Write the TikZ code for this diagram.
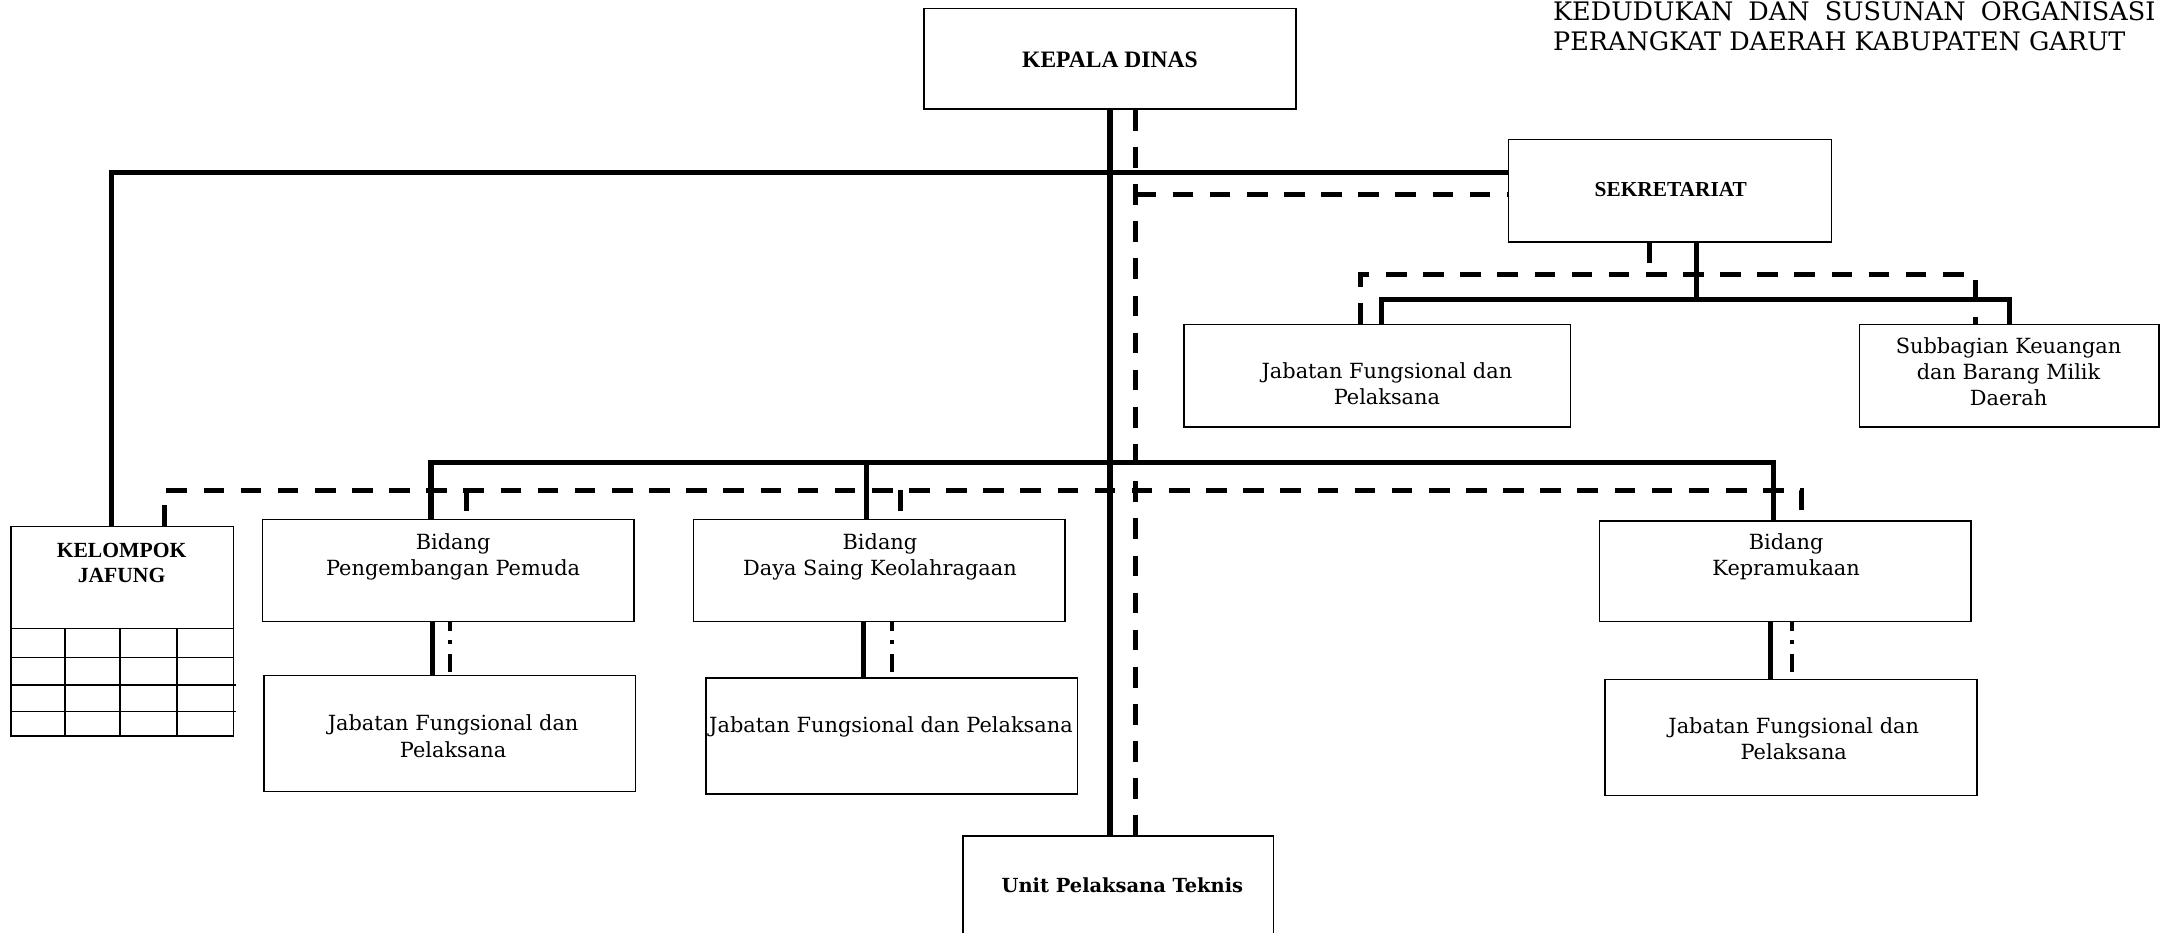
\documentclass[tikz,border=0pt]{standalone}
\usepackage{fontspec}
\setmainfont{DejaVu Serif}
\newfontfamily\timesfont{Liberation Serif}
\usetikzlibrary{calc}
\begin{document}
\begin{tikzpicture}[x=0.02cm,y=-0.02cm,
  box/.style={draw, line width=0.65pt, inner sep=0pt},
  txt/.style={inner sep=0pt, align=center, font=\fontsize{8.6}{10.8}\selectfont},
  hdr/.style={inner sep=0pt, align=center, font=\timesfont\bfseries\fontsize{9.7}{11}\selectfont},
  ttl/.style={anchor=base west, inner sep=0pt, font=\fontsize{10.5}{12}\selectfont},
  solidln/.style={line width=2.1pt},
  dashln/.style={line width=2.0pt, dash pattern=on 8.5pt off 6.8pt},
  dotln/.style={line width=1.6pt, dash pattern=on 7.4pt off 4pt on 1.7pt off 4pt, dash phase=4pt},
  gridln/.style={line width=0.65pt}]
\useasboundingbox (0,0) rectangle (1568,675);
\clip (0,0) rectangle (1568,675);

% title
\node[ttl] (ttl1) at (1124,15) {\makebox[8.72cm][s]{KEDUDUKAN DAN SUSUNAN ORGANISASI}};
\node[ttl] (ttl2) at (1124,36.5) {PERANGKAT DAERAH KABUPATEN GARUT};

% boxes
\node[box, minimum width=5.38cm, minimum height=1.46cm] (kd)  at (803.5,42.5) {};
\node[box, minimum width=4.68cm, minimum height=1.48cm] (sek) at (1209,138) {};
\node[box, minimum width=5.60cm, minimum height=1.48cm] (jf0) at (997,272) {};
\node[box, minimum width=4.34cm, minimum height=1.48cm] (sub) at (1454.5,272) {};
\node[box, minimum width=5.38cm, minimum height=1.48cm] (bp)  at (324.5,413) {};
\node[box, minimum width=5.38cm, minimum height=1.48cm] (bd)  at (636.5,413) {};
\node[box, minimum width=5.38cm, minimum height=1.46cm] (bk)  at (1292.5,413.5) {};
\node[box, minimum width=5.38cm, minimum height=1.68cm] (jp)  at (325.5,531) {};
\node[box, minimum width=5.38cm, minimum height=1.68cm] (jd)  at (645.5,533) {};
\node[box, minimum width=5.38cm, minimum height=1.68cm] (jk)  at (1296.5,534) {};
\node[box, minimum width=3.22cm, minimum height=3.04cm] (kj)  at (88.5,457) {};
\node[box, minimum width=4.50cm, minimum height=1.50cm] (upt) at (809.5,642.5) {};

% labels
\node[hdr] (kdt) at (803.5,43) {KEPALA DINAS};
\node[hdr, font=\timesfont\bfseries\fontsize{8.8}{10.2}\selectfont] (sekt) at (1209.5,137) {SEKRETARIAT};
\node[hdr, font=\timesfont\bfseries\fontsize{8.9}{10.2}\selectfont] (kjt) at (88,407.5) {KELOMPOK\\JAFUNG};
\node[txt] (jf0t) at (1004,278) {Jabatan Fungsional dan\\Pelaksana};
\node[txt] (subt) at (1454,269) {Subbagian Keuangan\\dan Barang Milik\\Daerah};
\node[txt] (bpt) at (328,403) {Bidang\\Pengembangan Pemuda};
\node[txt] (bdt) at (637,403) {Bidang\\Daya Saing Keolahragaan};
\node[txt] (bkt) at (1293,403) {Bidang\\Kepramukaan};
\node[txt] (jpt) at (328,533) {Jabatan Fungsional dan\\Pelaksana};
\node[txt] (jdt) at (645,526.5) {Jabatan Fungsional dan Pelaksana};
\node[txt] (jkt) at (1298.5,535) {Jabatan Fungsional dan\\Pelaksana};
\node[txt, font=\bfseries\fontsize{8}{10}\selectfont] (uptt) at (812.5,641) {Unit Pelaksana Teknis};

% table rows of the functional group box
\foreach \yy in {455,476} \draw[gridln] (8,\yy) -- (169,\yy);
\foreach \yy in {496,515} \draw[gridln] (8,\yy) -- (171,\yy);
\foreach \xx in {47,87,128} \draw[gridln] (\xx,455) -- (\xx,533);

% bus points
\coordinate (dv) at ($(kd.south)+(18.5,0)$);
\coordinate (tl) at (81,125);
\coordinate (sd) at ($(sek.west)+(0,3)$);
\coordinate (ss) at (1228,217);
\coordinate (sbl) at (1000,217);
\coordinate (sbr) at (1455,217);
\coordinate (ds) at (1194,199);
\coordinate (dbl) at (985,199);
\coordinate (dbr) at (1430,199);
\coordinate (bl) at (312,335);
\coordinate (bm) at (627,335);
\coordinate (br) at (1284,335);
\coordinate (el) at (119,355);
\coordinate (ep) at (338,355);
\coordinate (ed) at (652,355);
\coordinate (er) at (1304,355);
\coordinate (yp) at (313,450);
\coordinate (yd) at (625,450);
\coordinate (yk) at (1282,450);
\coordinate (xp) at (326,450);
\coordinate (xd) at (646,450);
\coordinate (xk) at (1297,450);

% command lines (solid)
\draw[solidln] (kd.south) -- (kd.south |- upt.north);
\draw[solidln] (kj.north -| tl) -- (tl) -- (tl -| sek.west);
\draw[solidln] (sek.south -| ss) -- (ss);
\draw[solidln] (jf0.north -| sbl) -- (sbl) -- (sbr) -- (sbr |- sub.north);
\draw[solidln] (bp.north -| bl) -- (bl) -- (br) -- (br |- bk.north);
\draw[solidln] (bm) -- (bm |- bd.north);
\draw[solidln] (bp.south -| yp) -- (jp.north -| yp);
\draw[solidln] (bd.south -| yd) -- (jd.north -| yd);
\draw[solidln] (bk.south -| yk) -- (jk.north -| yk);

% coordination lines (dashed)
\draw[dashln] (dv) -- (dv |- upt.north);
\draw[dashln] (dv |- sd) -- (sd);
\draw[dashln] (sek.south -| ds) -- (ds);
\draw[dashln] (jf0.north -| dbl) -- (dbl) -- (dbr) -- (dbr |- sub.north);
\draw[dashln] (kj.north -| el) -- (el) -- (er) -- (er |- bk.north);
\draw[dashln] (ep) -- (ep |- bp.north);
\draw[dashln] (ed) -- (ed |- bd.north);

% dash-dot links to functional staff
\draw[dotln] (bp.south -| xp) -- (jp.north -| xp);
\draw[dotln] (bd.south -| xd) -- (jd.north -| xd);
\draw[dotln] (bk.south -| xk) -- (jk.north -| xk);
\end{tikzpicture}
\end{document}
